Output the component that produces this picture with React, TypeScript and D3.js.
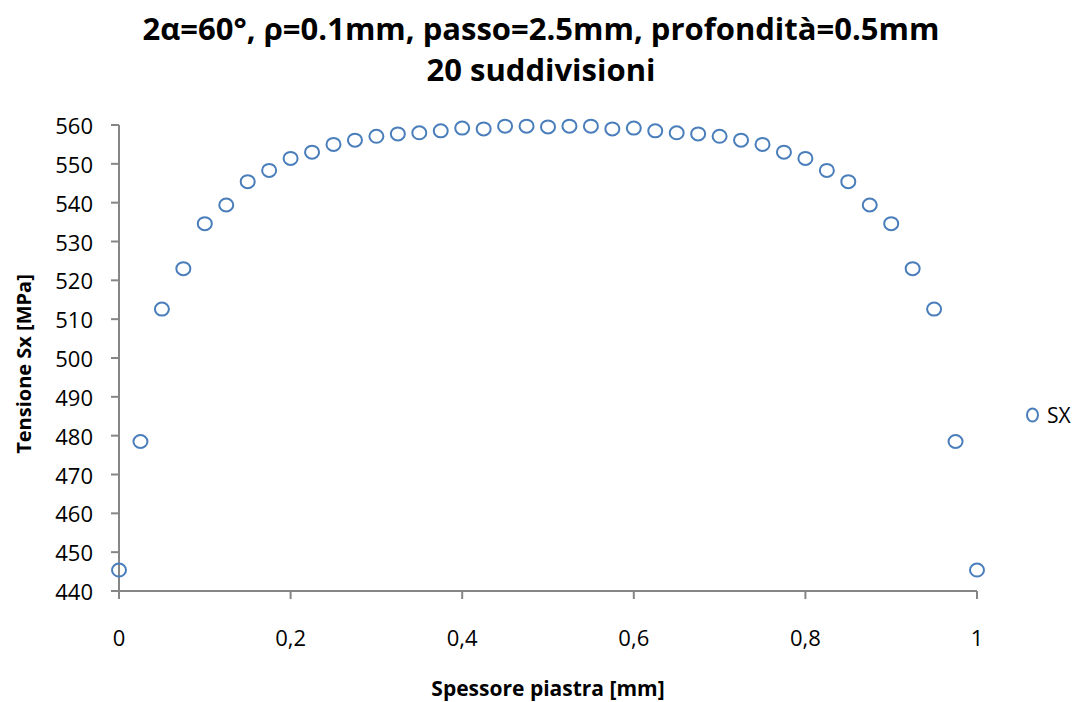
import React from "react";
import * as d3 from "d3";

const xValues: number[] = [
  0, 0.025, 0.05, 0.075, 0.1, 0.125, 0.15, 0.175, 0.2, 0.225, 0.25, 0.275, 0.3, 0.325, 0.35, 0.375, 0.4,
  0.425, 0.45, 0.475, 0.5, 0.525, 0.55, 0.575, 0.6, 0.625, 0.65, 0.675, 0.7, 0.725, 0.75, 0.775, 0.8,
  0.825, 0.85, 0.875, 0.9, 0.925, 0.95, 0.975, 1,
];
const sxValues: number[] = [
  445.4, 478.5, 512.6, 523.0, 534.6, 539.4, 545.4, 548.3, 551.4, 553.0, 555.0, 556.1, 557.1, 557.7, 558.0,
  558.5, 559.2, 559.0, 559.7, 559.7, 559.5, 559.7, 559.7, 559.0, 559.2, 558.5, 558.0, 557.7, 557.1, 556.1,
  555.0, 553.0, 551.4, 548.3, 545.4, 539.4, 534.6, 523.0, 512.6, 478.5, 445.4,
];
const xTicks: number[] = [0, 0.2, 0.4, 0.6, 0.8, 1];
const yTicks: number[] = [440, 450, 460, 470, 480, 490, 500, 510, 520, 530, 540, 550, 560];
const titleLines: string[] = ["2α=60°, ρ=0.1mm, passo=2.5mm, profondità=0.5mm", "20 suddivisioni"];
const xTitle = "Spessore piastra  [mm]";
const yTitle = "Tensione Sx  [MPa]";
const seriesName = "SX";

const W = 1086;
const H = 702;
const FONT = "'Open Sans', sans-serif";
const AXIS = "#868686";
const BLUE = "#4A7EBB";

export default function App() {
  const x = d3.scaleLinear().domain([0, 1]).range([119, 977]);
  const y = d3.scaleLinear().domain([440, 560]).range([591, 125]);
  const fmt = (v: number) => String(v).replace(".", ",");
  const data = xValues.map((xv, i) => ({ x: xv, y: sxValues[i] }));

  return (
    <svg
      width={W}
      height={H}
      style={{ position: "absolute", left: 0, top: 0, background: "#fff" }}
      fontFamily={FONT}
    >
      <rect width={W} height={H} fill="#fff" />
      {titleLines.map((t, i) => (
        <text
          key={i}
          x={541}
          y={28 + i * 41}
          textAnchor="middle"
          dominantBaseline="central"
          fontWeight="bold"
          fontSize={31}
          fill="#000"
        >
          {t}
        </text>
      ))}
      {/* axes */}
      <line x1={x(0)} x2={x(0)} y1={y(560)} y2={y(440)} stroke={AXIS} strokeWidth={2} />
      <line x1={x(0)} x2={x(1)} y1={y(440)} y2={y(440)} stroke={AXIS} strokeWidth={2} />
      {yTicks.map((t) => (
        <g key={"y" + t}>
          <line x1={x(0) - 8} x2={x(0)} y1={y(t)} y2={y(t)} stroke={AXIS} strokeWidth={2} />
          <text x={93} y={y(t)} textAnchor="end" dominantBaseline="central" fontSize={22} fill="#000">
            {t}
          </text>
        </g>
      ))}
      {xTicks.map((t) => (
        <g key={"x" + t}>
          <line x1={x(t)} x2={x(t)} y1={y(440)} y2={y(440) + 8} stroke={AXIS} strokeWidth={2} />
          <text x={x(t)} y={637} textAnchor="middle" dominantBaseline="central" fontSize={22} fill="#000">
            {fmt(t)}
          </text>
        </g>
      ))}
      <text x={548} y={688} textAnchor="middle" dominantBaseline="central" fontWeight="bold" fontSize={21} fill="#000">
        {xTitle}
      </text>
      <text
        transform={`translate(23,${364}) rotate(-90)`}
        textAnchor="middle"
        dominantBaseline="central"
        fontWeight="bold"
        fontSize={20}
        fill="#000"
      >
        {yTitle}
      </text>
      {data.map((d, i) => (
        <ellipse key={i} cx={x(d.x)} cy={y(d.y)} rx={7} ry={6.5} fill="none" stroke={BLUE} strokeWidth={2} />
      ))}
      <ellipse cx={1032.5} cy={415} rx={5.5} ry={6.5} fill="none" stroke={BLUE} strokeWidth={2} />
      <text x={1047} y={415} dominantBaseline="central" fontSize={21} fill="#000">
        {seriesName}
      </text>
    </svg>
  );
}
